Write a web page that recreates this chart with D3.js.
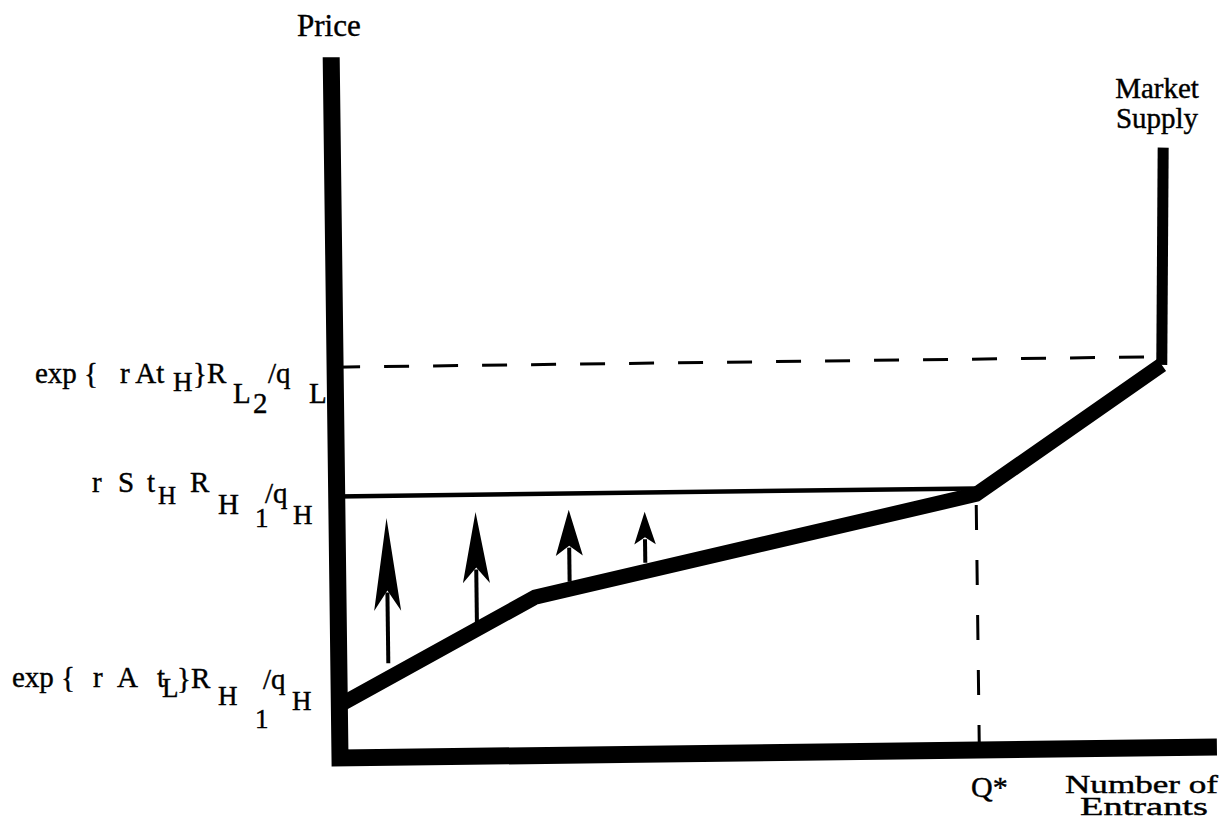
<!DOCTYPE html>
<html>
<head>
<meta charset="utf-8">
<script src="https://cdn.jsdelivr.net/npm/d3@7"></script>
<style>
  body { margin: 0; background: #fff; }
  text { font-family: "Liberation Serif", "Times New Roman", serif; fill: #000; stroke: #000; stroke-width: 0.4px; }
</style>
</head>
<body>
<svg id="chart" width="1223" height="822"></svg>
<script>
const width = 1223;
const height = 822;

/* DATA (diagram units: quantity 0-100, price 0-100) */
// kinked market supply curve
const supplyQ = [0, 23.9, 77.5, 100.2];
const supplyP = [8.8, 26.4, 42.6, 63.8];
const supplyTopQ = 100.7;        // vertical part of market supply
const supplyTopP = 100;

const qStar = 77.5;
const highPrice = 43.6;          // r S t_H R_H1 / q_H
const capPrice = 65.15;          // exp{rAt_H} R_L2 / q_L

// upward arrows: quantity, from price, to price
const arrowQ = [6.0, 16.8, 28.1, 37.3];
const arrowFrom = [15.7, 22.2, 28.9, 31.9];
const arrowTo = [39.9, 40.7, 40.9, 40.4];

const axisQMax = 106.3;
const axisPMax = 116.8;

/* SCALES */
const svg = d3.select("svg#chart");

const x = d3.scaleLinear().domain([0, 100]).range([340, 1165]);
const y = d3.scaleLinear().domain([0, 100]).range([758, 158]);

// the scanned figure is tilted a little
const plot = svg.append("g")
  .attr("id", "plot")
  .attr("transform", "rotate(-0.72," + x(0) + "," + y(0) + ")");

const line = d3.line().x(d => x(d[0])).y(d => y(d[1]));

/* AXES */
plot.append("path")
  .attr("d", line([[0, axisPMax], [0, 0], [axisQMax, 0]]))
  .attr("fill", "none")
  .attr("stroke", "#000")
  .attr("stroke-width", 17)
  .attr("stroke-linejoin", "miter");

/* REFERENCE LINES */
plot.append("path")
  .attr("d", line([[0, capPrice], [supplyQ[3], capPrice]]))
  .attr("stroke", "#000")
  .attr("stroke-width", 3)
  .attr("stroke-dasharray", "25,24");

plot.append("path")
  .attr("d", line([[qStar, 0], [qStar, supplyP[2]]]))
  .attr("stroke", "#000")
  .attr("stroke-width", 3)
  .attr("stroke-dasharray", "25,30");

plot.append("path")
  .attr("d", line([[0, highPrice], [qStar, highPrice]]))
  .attr("stroke", "#000")
  .attr("stroke-width", 4.5);

/* SUPPLY CURVE */
const supplyPts = supplyQ.map((q, i) => [q, supplyP[i]]);

plot.append("path")
  .attr("d", line(supplyPts))
  .attr("fill", "none")
  .attr("stroke", "#000")
  .attr("stroke-width", 15)
  .attr("stroke-linejoin", "miter");

plot.append("path")
  .attr("d", line([[supplyQ[3], supplyP[3]], [supplyTopQ, supplyTopP]]))
  .attr("stroke", "#000")
  .attr("stroke-width", 11);

/* ARROWS */
const arrows = plot.selectAll("g.arrow")
  .data(arrowQ.map((q, i) => ({ q: q, from: arrowFrom[i], to: arrowTo[i] })))
  .enter()
  .append("g")
  .attr("class", "arrow");

arrows.each(function(d) {
  const g = d3.select(this);
  const ax = x(d.q);
  const yBase = y(d.from);
  const yTip = y(d.to);
  const headLen = 0.64 * (yBase - yTip);
  const half = Math.min(13.5, 0.33 * headLen);
  const yBarb = yTip + headLen;
  const yNotch = yBarb - 0.22 * headLen;

  g.append("line")
    .attr("x1", ax).attr("x2", ax)
    .attr("y1", yBase).attr("y2", yNotch + 2)
    .attr("stroke", "#000")
    .attr("stroke-width", 4);

  g.append("path")
    .attr("d", "M" + ax + "," + yTip +
               "L" + (ax + half) + "," + yBarb +
               "L" + ax + "," + yNotch +
               "L" + (ax - half) + "," + yBarb + "Z")
    .attr("fill", "#000");
});

/* LABELS */
svg.append("text").attr("x", 297).attr("y", 36)
  .style("font-size", "31px").text("Price");

svg.append("text").attr("x", 1157).attr("y", 98)
  .attr("text-anchor", "middle").style("font-size", "29px").text("Market");
svg.append("text").attr("x", 1157).attr("y", 128)
  .attr("text-anchor", "middle").style("font-size", "29px").text("Supply");

svg.append("text").attr("x", 971).attr("y", 797)
  .style("font-size", "30px").text("Q*");

svg.append("text").attr("x", 1065).attr("y", 793)
  .attr("textLength", 153).attr("lengthAdjust", "spacingAndGlyphs")
  .style("font-size", "26px").text("Number of");
svg.append("text").attr("x", 1080).attr("y", 815)
  .attr("textLength", 128).attr("lengthAdjust", "spacingAndGlyphs")
  .style("font-size", "26px").text("Entrants");

// price level labels, drawn piece by piece (text, x, baseline, size)
const capLabel = [
  ["exp {", 35, 383, 29], ["r At", 120, 383, 29], ["H", 173, 391, 27],
  ["}R", 193, 383, 29], ["L", 233, 403, 29], ["2", 253, 413, 29],
  ["/q", 268, 383, 29], ["L", 309, 403, 29]
];
const highLabel = [
  ["r", 92, 492, 29], ["S", 118, 492, 29], ["t", 147, 492, 29],
  ["H", 158, 504, 25], ["R", 190, 492, 29], ["H", 218, 514, 29],
  ["1", 255, 527, 27], ["/q", 265, 503, 29], ["H", 293, 524, 27]
];
const lowLabel = [
  ["exp {", 12, 687, 29], ["r", 93, 687, 29], ["A", 117, 687, 29],
  ["t", 157, 687, 29], ["L", 162, 697, 27], ["}R", 177, 688, 29],
  ["H", 218, 705, 27], ["1", 255, 728, 27], ["/q", 263, 689, 29],
  ["H", 292, 710, 27]
];

[capLabel, highLabel, lowLabel].forEach(parts => {
  svg.append("g").selectAll("text")
    .data(parts)
    .enter()
    .append("text")
    .attr("x", d => d[1])
    .attr("y", d => d[2])
    .style("font-size", d => d[3] + "px")
    .text(d => d[0]);
});
</script>
</body>
</html>
